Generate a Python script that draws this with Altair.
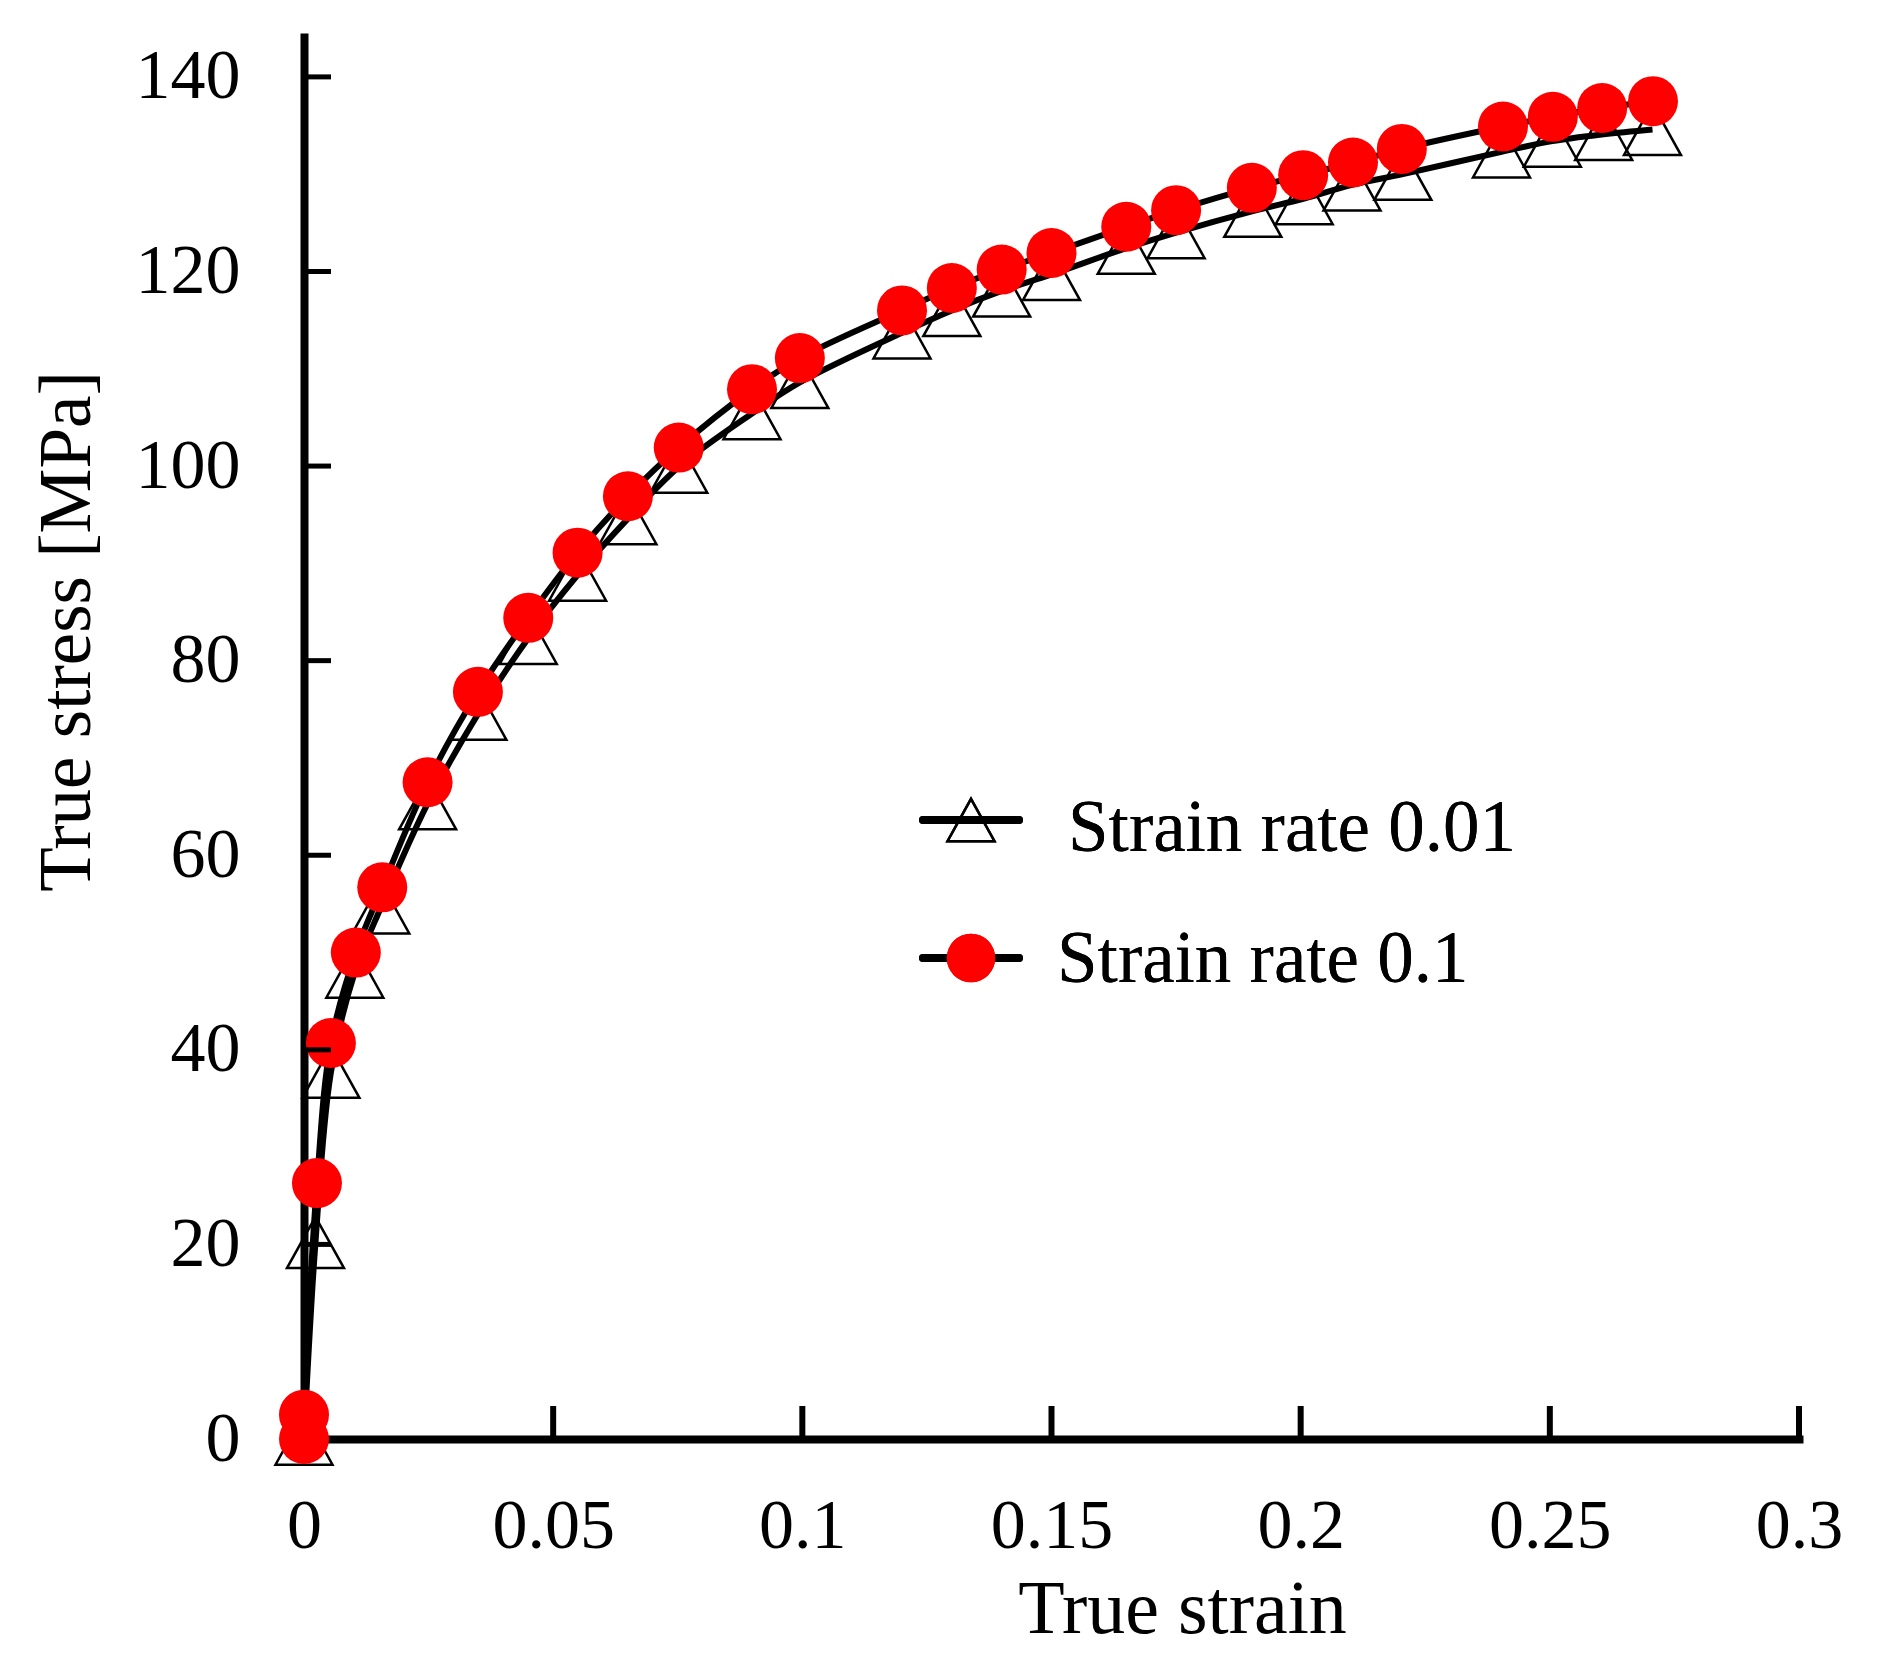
import altair as alt
import pandas as pd

# strain rate 0.01 -> hollow triangles
strain_slow = [0, 0.0023, 0.0054, 0.0102, 0.0154, 0.0248, 0.0349, 0.045, 0.0549, 0.065,
               0.0752, 0.0899, 0.0995, 0.12, 0.13, 0.14, 0.15, 0.165, 0.175, 0.1904,
               0.2007, 0.2103, 0.2205, 0.2403, 0.2505, 0.2608, 0.2706]
stress_slow = [0, 20.2, 37.7, 48.0, 54.6, 65.3, 74.5, 82.3, 88.8, 94.6,
               99.9, 105.4, 108.6, 113.7, 116.0, 118.0, 119.7, 122.4, 124.0, 126.2,
               127.5, 128.9, 130.0, 132.3, 133.4, 134.1, 134.6]

# strain rate 0.1 -> red circles
strain_fast = [0, 0, 0.0026, 0.0054, 0.0104, 0.0157, 0.0248, 0.0349, 0.045, 0.0549,
               0.065, 0.0752, 0.0899, 0.0995, 0.12, 0.13, 0.14, 0.15, 0.165, 0.175,
               0.1902, 0.2005, 0.2105, 0.2203, 0.2406, 0.2506, 0.2605, 0.2707]
stress_fast = [0, 2.5, 26.3, 40.7, 50.0, 56.7, 67.5, 76.8, 84.4, 91.1,
               96.9, 101.9, 107.9, 111.1, 116.0, 118.3, 120.2, 121.9, 124.6, 126.3,
               128.6, 129.9, 131.2, 132.6, 134.9, 135.9, 136.8, 137.5]

x_ticks = [0, 0.05, 0.1, 0.15, 0.2, 0.25, 0.3]
y_ticks = [0, 20, 40, 60, 80, 100, 120, 140]
legend_labels = ["Strain rate 0.01", "Strain rate 0.1"]

W, H = 1495, 1402
FONT = "Liberation Serif"
TRI = "M0,-0.9L-1,0.9L1,0.9Z"

df_slow = pd.DataFrame({"strain": strain_slow, "stress": stress_slow, "rate": legend_labels[0]})
df_fast = pd.DataFrame({"strain": strain_fast, "stress": stress_fast, "rate": legend_labels[1]})
df = pd.concat([df_slow, df_fast], ignore_index=True)
df["idx"] = range(len(df))

x_scale = alt.Scale(domain=[0, 0.3], nice=False, zero=False)
y_scale = alt.Scale(domain=[0, 144.1], nice=False)

x_axis = alt.Axis(values=x_ticks, format="~g", ticks=False, grid=False,
                  domainColor="black", domainWidth=8, domainCap="square",
                  labelFont=FONT, labelFontSize=70, labelColor="black",
                  labelBaseline="alphabetic", labelPadding=108,
                  labelFlush=False, labelOverlap=False,
                  title="True strain", titleFont=FONT, titleFontSize=76,
                  titleFontWeight="normal", titleColor="black",
                  titleX=878, titleY=193, titleBaseline="alphabetic")
y_axis = alt.Axis(values=y_ticks, ticks=False, grid=False,
                  domainColor="black", domainWidth=8, domainCap="square",
                  labelFont=FONT, labelFontSize=70, labelColor="black",
                  labelPadding=64, labelFlush=False, labelOverlap=False,
                  title="True stress [MPa]", titleFont=FONT, titleFontSize=73,
                  titleFontWeight="normal", titleColor="black",
                  titleX=-215, titleY=594, titleBaseline="alphabetic", titleAngle=270)

x_enc = alt.X("strain:Q", scale=x_scale, axis=x_axis)
y_enc = alt.Y("stress:Q", scale=y_scale, axis=y_axis)

lines = alt.Chart(df).mark_line(color="black", strokeWidth=6, interpolate="catmull-rom").encode(
    x=x_enc, y=y_enc, detail="rate:N", order="idx:Q"
)

triangles = alt.Chart(df_slow).mark_point(
    shape=TRI, size=3249, filled=False, color="black", strokeWidth=2.5, opacity=1
).encode(x=x_enc, y=y_enc)

circles = alt.Chart(df_fast).mark_point(
    shape="circle", size=2500, filled=True, color="#ff0000", strokeWidth=0, opacity=1
).encode(x=x_enc, y=y_enc)

# inward tick marks
x_tick_df = pd.DataFrame({"strain": x_ticks[1:]})
y_tick_df = pd.DataFrame({"stress": y_ticks[1:]})
ticks_x = alt.Chart(x_tick_df).mark_rule(color="black", strokeWidth=6).encode(
    x=x_enc, y=alt.value(H), y2=alt.value(H - 33)
)
ticks_y = alt.Chart(y_tick_df).mark_rule(color="black", strokeWidth=5).encode(
    y=y_enc, x=alt.value(0), x2=alt.value(27)
)

# legend drawn by hand
leg_df = pd.DataFrame({"label": legend_labels})
leg_line1 = alt.Chart(leg_df).mark_rule(color="black", strokeWidth=8, strokeCap="round").encode(
    x=alt.value(619), x2=alt.value(715), y=alt.value(783))
leg_line2 = alt.Chart(leg_df).mark_rule(color="black", strokeWidth=8, strokeCap="round").encode(
    x=alt.value(619), x2=alt.value(715), y=alt.value(921))
leg_tri = alt.Chart(leg_df).mark_point(
    shape=TRI, size=2209, filled=False, color="black", strokeWidth=2.5, opacity=1
).encode(x=alt.value(667), y=alt.value(783))
leg_circ = alt.Chart(leg_df).mark_point(
    shape="circle", size=2350, filled=True, color="#ff0000", strokeWidth=0, opacity=1
).encode(x=alt.value(667), y=alt.value(921))
leg_text1 = alt.Chart(leg_df).mark_text(
    text=legend_labels[0], font=FONT, fontSize=73, color="black", align="left", baseline="alphabetic"
).encode(x=alt.value(764), y=alt.value(814))
leg_text2 = alt.Chart(leg_df).mark_text(
    text=legend_labels[1], font=FONT, fontSize=73, color="black", align="left", baseline="alphabetic"
).encode(x=alt.value(753), y=alt.value(945))

chart = alt.layer(
    lines, triangles, circles, ticks_x, ticks_y,
    leg_line1, leg_line2, leg_tri, leg_circ, leg_text1, leg_text2
).properties(
    width=W, height=H,
    autosize=alt.AutoSizeParams(type="none"),
    padding={"left": 296, "top": 29, "right": 70, "bottom": 220},
    background="white",
).configure_view(strokeWidth=0)

chart.save("out.html", embed_options={"renderer": "svg", "actions": False})
